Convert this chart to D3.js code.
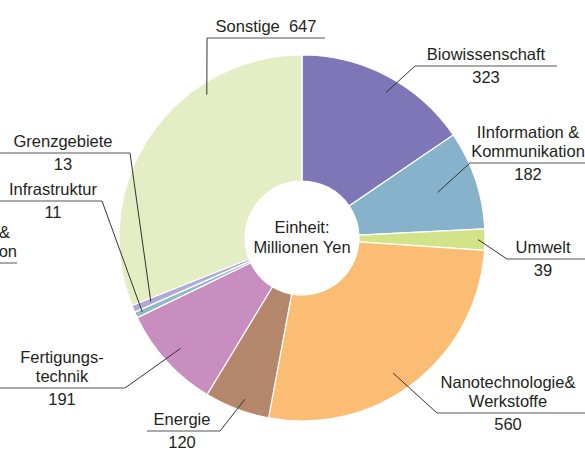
<!DOCTYPE html>
<html>
  <head>
    <meta charset="utf-8">
    <title>Einheit: Millionen Yen</title>
    <script src="https://d3js.org/d3.v7.min.js"></script>
    <style>
      body { margin: 0; background: #fff; }
      svg { display: block; font-family: "Liberation Sans", Arial, sans-serif; }
      text { fill: #231f20; font-size: 16.5px; white-space: pre; }
    </style>
  </head>
  <body>
    <svg id="chart" width="585" height="450"></svg>
    <script>
      // data, clockwise from 12 o'clock
      var categories = ["Biowissenschaft", "IInformation & Kommunikation", "Umwelt", "Nanotechnologie& Werkstoffe",
        "Energie", "Fertigungstechnik", "Grundlagen & Konstruktion", "Infrastruktur", "Grenzgebiete", "Sonstige"];
      var values = [323, 182, 39, 560, 120, 191, 0, 11, 13, 647];
      var labelLines = [["Biowissenschaft"], ["IInformation &", "Kommunikation"], ["Umwelt"], ["Nanotechnologie&", "Werkstoffe"],
        ["Energie"], ["Fertigungs-", "technik"], ["Grundlagen &", "Konstruktion"], ["Infrastruktur"], ["Grenzgebiete"], ["Sonstige  647"]];
      var valueLabels = ["323", "182", "39", "560", "120", "191", "", "11", "13", ""];
      var colors = ["#7f76b7", "#86b3cb", "#d2e38a", "#fbbc74", "#b4866c", "#c78ebf", "#9db8c9", "#8fb8cd", "#b1a9d6", "#e5edc4"];

      // label placement: underline y, underline x-range, text x, leader radius / angle override, leader end
      var layout = [
        { y: 66, x0: 415, x1: 557, cx: 486, r: 168, a: 30, end: "x0" },
        { y: 163, x0: 470, x1: 590, cx: 528, r: 143, end: "x0" },
        { y: 259, x0: 507, x1: 590, cx: 543, r: 176, end: "x0" },
        { y: 413, x0: 437, x1: 590, cx: 508, r: 163, a: 146, end: "x0" },
        { y: 431, x0: 147, x1: 220, cx: 182, r: 171, a: 199.5, end: "x1" },
        { y: 388, x0: -5, x1: 125, cx: 62, r: 164, end: "x1" },
        { y: 263, x0: -120, x1: 17, cx: 17, r: 0, anchor: "end", dx: [-7, 0] },
        { y: 201, x0: -5, x1: 102, cx: 53, r: 176, end: "x1" },
        { y: 153, x0: -5, x1: 130, cx: 63, r: 164, end: "x1" },
        { y: 38, x0: 207, x1: 325, cx: 266, r: 172, a: 326.4, end: "x0" }
      ];

      var svg = d3.select("#chart");
      var cx = 302, cy = 238, outer = 183, inner = 57;
      var lineH = 19;

      var pie = d3.pie().sort(null).value(function(d) { return d; });
      var arcs = pie(values);
      var arc = d3.arc().innerRadius(inner).outerRadius(outer);

      var g = svg.append("g").attr("transform", "translate(" + cx + "," + cy + ")");
      g.selectAll("path")
          .data(arcs)
        .enter().append("path")
          .attr("d", arc)
          .attr("fill", function(d, i) { return colors[i]; })
          .attr("stroke", "#fff")
          .attr("stroke-width", function(d) { return d.value > 0 ? 1.2 : 0; });

      // centre text
      svg.append("text").attr("x", cx).attr("y", 233).attr("text-anchor", "middle").text("Einheit:");
      svg.append("text").attr("x", cx).attr("y", 253).attr("text-anchor", "middle").text("Millionen Yen");

      // labels
      arcs.forEach(function(d, i) {
        var L = layout[i];
        var lines = labelLines[i];
        // underline
        svg.append("line")
          .attr("x1", L.x0).attr("x2", L.x1)
          .attr("y1", L.y).attr("y2", L.y)
          .attr("stroke", "#555").attr("stroke-width", 1.2);
        // label text above the underline
        lines.forEach(function(t, k) {
          svg.append("text")
            .attr("x", L.cx + (L.dx ? L.dx[k] : 0))
            .attr("y", L.y - 6 - (lines.length - 1 - k) * lineH)
            .attr("text-anchor", L.anchor || "middle")
            .text(t);
        });
        if (valueLabels[i]) {
          svg.append("text")
            .attr("x", L.cx)
            .attr("y", L.y + 17)
            .attr("text-anchor", "middle")
            .text(valueLabels[i]);
        }
        if (L.r > 0) {
          var ang = (L.a !== undefined ? L.a : (d.startAngle + d.endAngle) / 2 * 180 / Math.PI) * Math.PI / 180;
          var px = cx + L.r * Math.sin(ang), py = cy - L.r * Math.cos(ang);
          svg.append("line")
            .attr("x1", px).attr("y1", py)
            .attr("x2", L[L.end]).attr("y2", L.y)
            .attr("stroke", "#333").attr("stroke-width", 1);
        }
      });
    </script>
  </body>
</html>
